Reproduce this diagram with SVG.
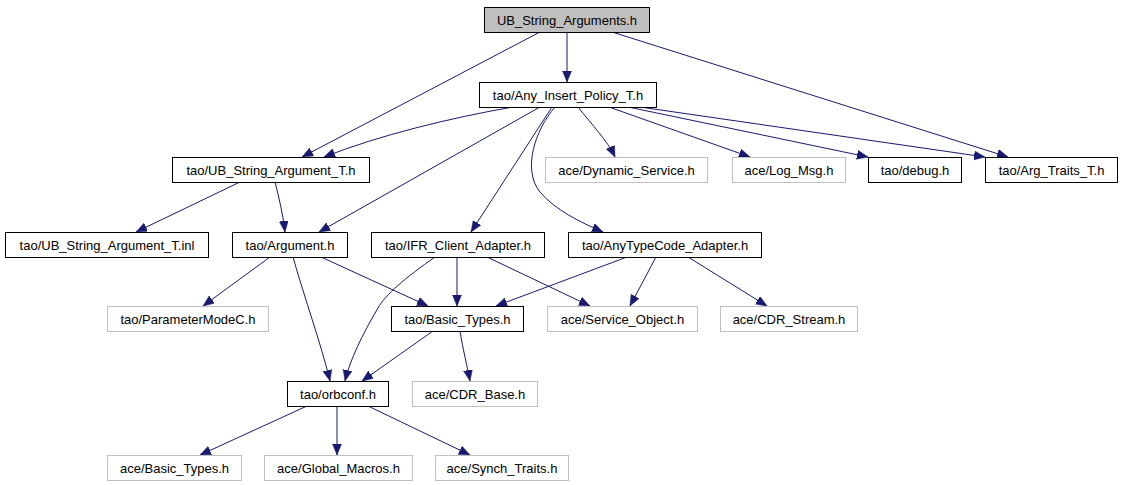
<svg xmlns="http://www.w3.org/2000/svg" width="1121" height="485" viewBox="0 0 1121 485">
<style>
.n rect{fill:#ffffff;stroke:#000000;stroke-width:1}
.g rect{fill:#ffffff;stroke:#bfbfbf;stroke-width:1}
.root rect{fill:#bfbfbf;stroke:#000000;stroke-width:1}
text{font-family:"Liberation Sans",Arial,sans-serif;font-size:13px;fill:#000000;text-anchor:middle}
#edges path{fill:none;stroke:#191970;stroke-width:1;marker-end:url(#arr)}
</style>
<defs>
<marker id="arr" markerUnits="userSpaceOnUse" markerWidth="12" markerHeight="10" refX="11" refY="4.5" orient="auto">
<path d="M0,0 L11,4.5 L0,9 z" fill="#191970" stroke="#191970" stroke-width="0.5"/>
</marker>
</defs>
<rect width="1121" height="485" fill="#ffffff"/>
<g id="edges">
<path d="M567,32 L567,82"/>
<path d="M540,32 L302,157"/>
<path d="M612,32 L1008,157"/>
<path d="M513,107 C450,118 380,135 324,157"/>
<path d="M540,107 L319,232"/>
<path d="M552,107 L471,232"/>
<path d="M555,107 C535,130 522,170 540,192 C555,210 580,222 603,232"/>
<path d="M578,107 C592,125 607,140 615,157"/>
<path d="M609,107 L750,157"/>
<path d="M628,107 L868,157"/>
<path d="M640,107 L985,157"/>
<path d="M240,182 L136,232"/>
<path d="M275,182 C279,198 283,214 285,232"/>
<path d="M270,257 L203,306"/>
<path d="M293,257 C305,300 320,340 330,381"/>
<path d="M321,257 L428,306"/>
<path d="M457,257 L457,306"/>
<path d="M435,257 C405,278 385,295 378,308 C362,335 350,360 345,381"/>
<path d="M487,257 L590,306"/>
<path d="M627,257 L496,306"/>
<path d="M656,257 L630,306"/>
<path d="M688,257 L767,306"/>
<path d="M433,331 L362,381"/>
<path d="M460,331 C463,350 467,365 470,381"/>
<path d="M307,406 L200,455"/>
<path d="M337,406 L337,455"/>
<path d="M368,406 L470,455"/>
</g>
<g id="n0" class="root"><rect x="484.5" y="7.5" width="165" height="25"/><text x="567" y="24.5">UB_String_Arguments.h</text></g>
<g id="n1" class="n"><rect x="479.5" y="82.5" width="177" height="25"/><text x="568" y="99.5">tao/Any_Insert_Policy_T.h</text></g>
<g id="n2" class="n"><rect x="172.5" y="157.5" width="197" height="25"/><text x="271" y="174.5">tao/UB_String_Argument_T.h</text></g>
<g id="n3" class="g"><rect x="545.5" y="157.5" width="162" height="25"/><text x="626.5" y="174.5">ace/Dynamic_Service.h</text></g>
<g id="n4" class="g"><rect x="732.5" y="157.5" width="113" height="25"/><text x="789" y="174.5">ace/Log_Msg.h</text></g>
<g id="n5" class="n"><rect x="868.5" y="157.5" width="93" height="25"/><text x="915" y="174.5">tao/debug.h</text></g>
<g id="n6" class="n"><rect x="985.5" y="157.5" width="132" height="25"/><text x="1051.5" y="174.5">tao/Arg_Traits_T.h</text></g>
<g id="n7" class="n"><rect x="5.5" y="232.5" width="203" height="25"/><text x="107" y="249.5">tao/UB_String_Argument_T.inl</text></g>
<g id="n8" class="n"><rect x="232.5" y="232.5" width="115" height="25"/><text x="290" y="249.5">tao/Argument.h</text></g>
<g id="n9" class="n"><rect x="371.5" y="232.5" width="173" height="25"/><text x="458" y="249.5">tao/IFR_Client_Adapter.h</text></g>
<g id="n10" class="n"><rect x="568.5" y="232.5" width="193" height="25"/><text x="665" y="249.5">tao/AnyTypeCode_Adapter.h</text></g>
<g id="n11" class="g"><rect x="107.5" y="306.5" width="161" height="25"/><text x="188" y="323.5">tao/ParameterModeC.h</text></g>
<g id="n12" class="n"><rect x="391.5" y="306.5" width="132" height="25"/><text x="457.5" y="323.5">tao/Basic_Types.h</text></g>
<g id="n13" class="g"><rect x="547.5" y="306.5" width="150" height="25"/><text x="622.5" y="323.5">ace/Service_Object.h</text></g>
<g id="n14" class="g"><rect x="720.5" y="306.5" width="137" height="25"/><text x="789" y="323.5">ace/CDR_Stream.h</text></g>
<g id="n15" class="n"><rect x="287.5" y="381.5" width="101" height="25"/><text x="338" y="398.5">tao/orbconf.h</text></g>
<g id="n16" class="g"><rect x="412.5" y="381.5" width="125" height="25"/><text x="475" y="398.5">ace/CDR_Base.h</text></g>
<g id="n17" class="g"><rect x="107.5" y="455.5" width="134" height="25"/><text x="174.5" y="472.5">ace/Basic_Types.h</text></g>
<g id="n18" class="g"><rect x="264.5" y="455.5" width="148" height="25"/><text x="338.5" y="472.5">ace/Global_Macros.h</text></g>
<g id="n19" class="g"><rect x="435.5" y="455.5" width="133" height="25"/><text x="502" y="472.5">ace/Synch_Traits.h</text></g>
</svg>
